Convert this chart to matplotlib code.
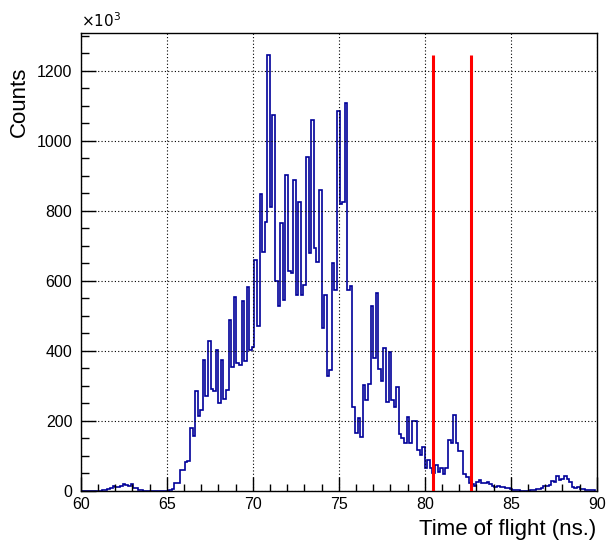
import numpy as np
import matplotlib
matplotlib.use("Agg")
import matplotlib.pyplot as plt
from matplotlib.ticker import MultipleLocator

plt.rcParams['font.family'] = ['Liberation Sans', 'DejaVu Sans']

# ---- data (counts in units of 10^3, bins of 0.15 ns) ----
bin_start = 59.9
bin_width = 0.15
counts = [
    0, 0, 0, 0, 0, 0, 0, 0, 0, 2, 3, 5, 8, 14, 12, 12, 13, 20, 18, 14,
    20, 9, 8, 4, 2, 0, 0, 0, 0, 0, 0, 0, 0, 1, 1, 3, 5, 22, 24, 60,
    60, 83, 85, 181, 156, 285, 213, 232, 375, 270, 427, 292, 285, 403, 252, 373, 264, 287, 488, 354,
    555, 365, 360, 543, 370, 581, 403, 410, 660, 472, 847, 681, 768, 1245, 811, 1074, 600, 529, 764, 545,
    901, 629, 622, 887, 559, 825, 560, 588, 953, 678, 1058, 695, 655, 858, 466, 560, 327, 346, 650, 574,
    1084, 820, 826, 1108, 574, 584, 240, 166, 207, 155, 303, 261, 306, 529, 379, 564, 349, 313, 409, 254,
    398, 261, 240, 297, 164, 150, 137, 210, 137, 199, 199, 117, 102, 125, 67, 88, 65, 50, 74, 55,
    65, 48, 67, 145, 136, 216, 137, 115, 115, 48, 39, 22, 20, 14, 26, 31, 22, 22, 26, 20,
    14, 10, 14, 10, 10, 8, 8, 6, 4, 4, 4, 1, 1, 1, 1, 3, 4, 6, 7, 8,
    14, 14, 18, 28, 26, 43, 31, 33, 43, 33, 26, 12, 8, 10, 6, 5, 4, 4, 3, 2,
]
cut_lines = [80.5, 82.7]
x_ticks = [60, 65, 70, 75, 80, 85, 90]
y_ticks = [0, 200, 400, 600, 800, 1000, 1200]
x_label = "Time of flight (ns.)"
y_label = "Counts"

counts = np.array(counts, dtype=float)
edges = bin_start + bin_width * np.arange(len(counts) + 1)

fig = plt.figure(figsize=(6.09, 5.42), dpi=100)
ax = fig.add_axes([80.7 / 609, 1 - 491 / 542, (596.7 - 80.7) / 609, (491 - 33) / 542])

ax.stairs(counts, edges, color='#000099', lw=1.2, baseline=0)
ax.vlines(cut_lines, 0, counts.max(), color='#ff0000', lw=2.2, zorder=3)

ax.set_xlim(60, 90)
ax.set_ylim(0, counts.max() * 1.05)
ax.set_xticks(x_ticks)
ax.set_yticks(y_ticks)
ax.xaxis.set_minor_locator(MultipleLocator(1))
ax.yaxis.set_minor_locator(MultipleLocator(50))
ax.tick_params(axis='x', which='major', direction='in', length=10, width=1, labelsize=11.5, pad=4)
ax.tick_params(axis='x', which='minor', direction='in', length=5, width=1)
ax.tick_params(axis='y', which='major', direction='in', length=11, width=1, labelsize=11.5, pad=6)
ax.tick_params(axis='y', which='minor', direction='in', length=5.5, width=1)
ax.grid(True, which='major', color='black', linestyle=(0, (1, 2)), lw=0.8)
for s in ax.spines.values():
    s.set_linewidth(1)

ax.set_xlabel(x_label, fontsize=16, ha='right', va='center')
ax.xaxis.set_label_coords(1.0, -0.085)
ax.set_ylabel(y_label, fontsize=16, ha='center', va='center')
ax.yaxis.set_label_coords(-0.118, 0.85)
fig.text(80.7 / 609, 1 - 21 / 542, r"$\times10^{3}$", fontsize=11, ha='left', va='center')

fig.savefig("out.png", dpi=100)
